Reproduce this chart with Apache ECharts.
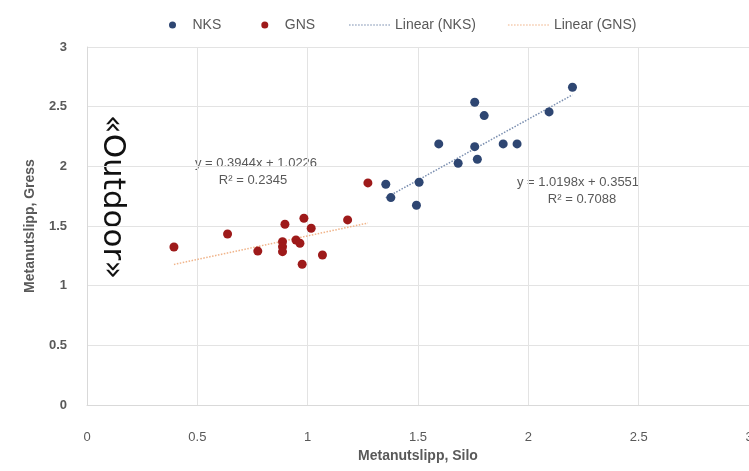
<!DOCTYPE html>
<html><head><meta charset="utf-8">
<script src="https://cdn.jsdelivr.net/npm/echarts@6/dist/echarts.min.js"></script>
<style>html,body{margin:0;padding:0;background:#fff}#c{width:749px;height:471px}</style>
</head><body><div id="c"></div>
<script>
var xTicks = [0, 0.5, 1, 1.5, 2, 2.5, 3];
var yTicks = [0, 0.5, 1, 1.5, 2, 2.5, 3];
var nksX = [2.2, 2.094, 1.757, 1.8, 1.594, 1.757, 1.886, 1.949, 1.769, 1.682, 1.505, 1.354, 1.377, 1.493];
var nksY = [2.663, 2.456, 2.537, 2.425, 2.188, 2.165, 2.188, 2.188, 2.059, 2.026, 1.867, 1.85, 1.738, 1.674];
var gnsX = [1.273, 0.394, 0.637, 0.774, 0.897, 0.886, 0.886, 0.886, 0.947, 0.965, 0.983, 1.016, 0.975, 1.067, 1.181];
var gnsY = [1.861, 1.324, 1.433, 1.29, 1.515, 1.369, 1.327, 1.285, 1.383, 1.355, 1.565, 1.481, 1.179, 1.257, 1.551];
var nksTrendX = [1.354, 2.2];
var nksTrendY = [1.736, 2.599];
var gnsTrendX = [0.394, 1.273];
var gnsTrendY = [1.178, 1.525];
var nksEq = ['y = 1.0198x + 0.3551', 'R² = 0.7088'];
var gnsEq = ['y = 0.3944x + 1.0226', 'R² = 0.2345'];

function pairs(xs, ys){ return xs.map(function(x,i){ return [x, ys[i]]; }); }
var dotted = 'path://';
for (var i = 0; i < 40; i += 3) { dotted += 'M' + i + ',0h1.6v1h-1.6z'; }
var chart = echarts.init(document.getElementById('c'), null, {renderer:'canvas'});
var font = 'Liberation Sans, Arial, sans-serif';
var grey = '#595959';
var nksColor = '#2e4672';
var gnsColor = '#9e1a1a';
var nksLine = '#7b8fb0';
var gnsLine = '#f0b48a';
chart.setOption({
  animation: false,
  textStyle: {fontFamily: font},
  grid: {left: 87, right: 0, top: 47, bottom: 66, containLabel: false, outerBoundsMode: 'none'},
  legend: [{
    left: 164, top: 13, itemWidth: 30, itemHeight: 7, itemGap: 40,
    textStyle: {color: grey, fontSize: 14, fontFamily: font},
    data: [{name:'NKS', icon:'circle'}, {name:'GNS', icon:'circle'}]
  },{
    left: 344, top: 13, itemWidth: 41, itemHeight: 2, itemGap: 32,
    textStyle: {color: grey, fontSize: 14, fontFamily: font},
    data: [{name:'Linear (NKS)', icon: dotted, itemStyle: {color: nksLine}},
           {name:'Linear (GNS)', icon: dotted, itemStyle: {color: gnsLine}}]
  }],
  xAxis: {
    type: 'value', min: xTicks[0], max: xTicks[xTicks.length-1], interval: 0.5,
    name: 'Metanutslipp, Silo', nameLocation: 'middle', nameGap: 44,
    nameTextStyle: {color: grey, fontSize: 14, fontWeight: 'bold', fontFamily: font},
    axisLine: {show: true, lineStyle: {color: '#d9d9d9'}},
    axisTick: {show: false},
    axisLabel: {color: grey, fontSize: 13, margin: 26, showMaxLabel: true},
    splitLine: {show: true, lineStyle: {color: '#e3e3e3'}}
  },
  yAxis: {
    type: 'value', min: yTicks[0], max: yTicks[yTicks.length-1], interval: 0.5,
    name: 'Metanutslipp, Gress', nameLocation: 'middle', nameGap: 50,
    nameTextStyle: {color: grey, fontSize: 14, fontWeight: 'bold', fontFamily: font},
    axisLine: {show: true, lineStyle: {color: '#d9d9d9'}},
    axisTick: {show: false},
    axisLabel: {color: grey, fontSize: 13, margin: 20, fontWeight: 'bold'},
    splitLine: {show: true, lineStyle: {color: '#e3e3e3'}}
  },
  series: [
    {name: 'NKS', type: 'scatter', data: pairs(nksX, nksY), symbolSize: 9, itemStyle: {color: nksColor, opacity: 1}, z: 3},
    {name: 'GNS', type: 'scatter', data: pairs(gnsX, gnsY), symbolSize: 9, itemStyle: {color: gnsColor, opacity: 1}, z: 3},
    {name: 'Linear (NKS)', type: 'line', data: pairs(nksTrendX, nksTrendY), symbol: 'none', itemStyle: {color: nksLine}, lineStyle: {color: nksLine, type: 'dotted', width: 1.5}, z: 2},
    {name: 'Linear (GNS)', type: 'line', data: pairs(gnsTrendX, gnsTrendY), symbol: 'none', itemStyle: {color: gnsLine}, lineStyle: {color: gnsLine, type: 'dotted', width: 1.5}, z: 2}
  ],
  graphic: [
    {type: 'text', x: 112, y: 197, rotation: -Math.PI/2, style: {text: '«Outdoor»', font: '31px DejaVu Sans, sans-serif', fill: '#111', textAlign: 'center', textVerticalAlign: 'middle'}},
    {type: 'text', x: 256, y: 163, style: {text: gnsEq[0], font: '13px ' + font, fill: grey, textAlign: 'center', textVerticalAlign: 'middle'}},
    {type: 'text', x: 253, y: 180, style: {text: gnsEq[1], font: '13px ' + font, fill: grey, textAlign: 'center', textVerticalAlign: 'middle'}},
    {type: 'text', x: 578, y: 182, style: {text: nksEq[0], font: '13px ' + font, fill: grey, textAlign: 'center', textVerticalAlign: 'middle'}},
    {type: 'text', x: 582, y: 199, style: {text: nksEq[1], font: '13px ' + font, fill: grey, textAlign: 'center', textVerticalAlign: 'middle'}}
  ]
});
</script></body></html>
